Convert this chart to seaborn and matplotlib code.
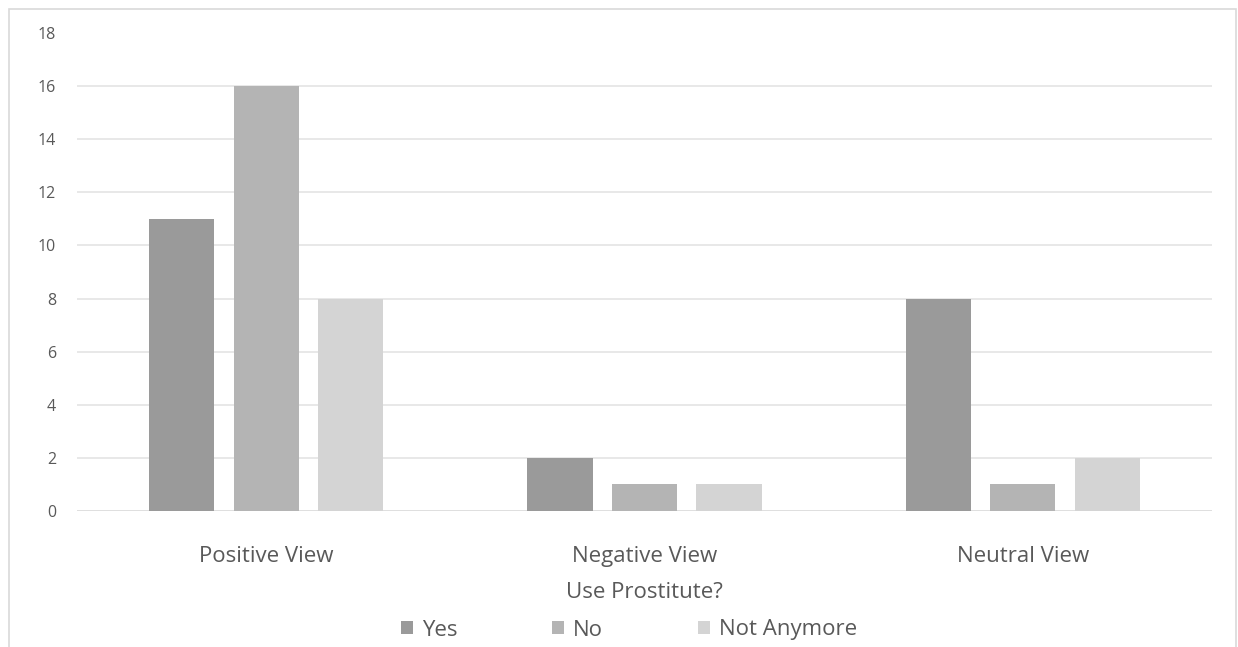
import matplotlib
matplotlib.use("Agg")
import matplotlib.pyplot as plt
import seaborn as sns
import pandas as pd
from matplotlib.patches import Rectangle

categories = ["Positive View", "Negative View", "Neutral View"]
series = ["Yes", "No", "Not Anymore"]
yes_vals = [11, 2, 8]
no_vals = [16, 1, 1]
not_anymore_vals = [8, 1, 2]
yticks = [0, 2, 4, 6, 8, 10, 12, 14, 16, 18]
colors = ["#9a9a9a", "#b4b4b4", "#d4d4d4"]
text_color = "#595959"

rows = []
for s, vals in zip(series, [yes_vals, no_vals, not_anymore_vals]):
    for c, v in zip(categories, vals):
        rows.append({"View": c, "Use Prostitute?": s, "Count": v})
df = pd.DataFrame(rows)

sns.set_theme(style="white")
plt.rcParams['font.family'] = ['Open Sans', 'DejaVu Sans']

fig = plt.figure(figsize=(12.38, 6.47), dpi=100)
ax = fig.add_axes([77/1238, 1-511/647, (1212-77)/1238, (511-33)/647])

sns.barplot(data=df, x="View", y="Count", hue="Use Prostitute?",
            hue_order=series, order=categories, palette=colors,
            width=0.67, gap=0.23, saturation=1, linewidth=0,
            ax=ax, legend=True)

ax.set_xlim(-0.5, 2.5)
ax.set_ylim(0, 18)
ax.set_yticks(yticks)
ax.set_yticklabels([str(t) for t in yticks])
ax.yaxis.grid(True, color="#e6e6e6", linewidth=1.3)
ax.set_axisbelow(True)
gls = ax.yaxis.get_gridlines()
gls[-1].set_visible(False)
gls[0].set_color("#dcdcdc")
for sp in ax.spines.values():
    sp.set_visible(False)
ax.tick_params(axis="y", length=0, pad=15, labelsize=11.5, labelcolor=text_color)
ax.tick_params(axis="x", length=0, pad=25, labelsize=16, labelcolor=text_color)
ax.set_ylabel("")
ax.set_xlabel("Use Prostitute?", fontsize=16, color=text_color, labelpad=11)

leg = ax.legend(loc="center", bbox_to_anchor=((629-77)/1135, -(630-511)/478), ncol=3,
                frameon=False, fontsize=16, handlelength=0.55, handleheight=0.55,
                handletextpad=0.4, columnspacing=4.25, labelcolor=text_color,
                borderpad=0)

fig.patches.append(Rectangle((9/1238, -0.05), (1236-9)/1238, 1.05-9/647,
                             transform=fig.transFigure, fill=False,
                             edgecolor="#d9d9d9", linewidth=1.2))

fig.savefig("out.png", dpi=100)
